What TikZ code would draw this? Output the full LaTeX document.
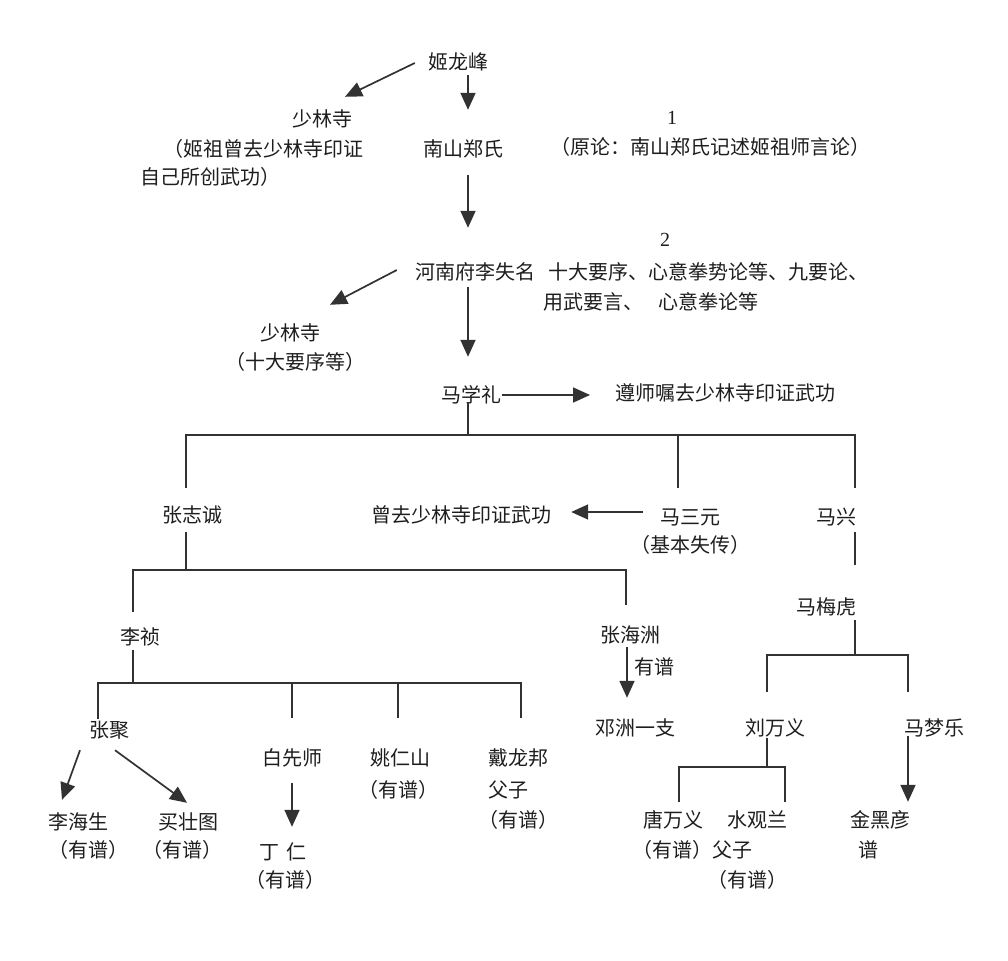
\documentclass[tikz,border=0pt]{standalone}
\usepackage{fontspec}
\setmainfont{Liberation Serif}
\newfontfamily\cjk{Noto Sans CJK SC}
\usetikzlibrary{arrows.meta,calc}
\definecolor{ink}{RGB}{30,30,30}
\definecolor{lc}{RGB}{50,50,50}
\begin{document}
\begin{tikzpicture}[x=1pt,y=-1pt,
  t/.style={font=\cjk\fontsize{20}{24}\selectfont, text=ink, inner sep=0pt, text height=17pt, text depth=3pt},
  num/.style={font=\fontsize{20}{24}\selectfont, text=ink, inner sep=0pt},
  ln/.style={draw=lc, line width=1.7pt},
  arr/.style={ln, -{Triangle[length=17pt,width=15pt]}}]
\fill[white] (0,0) rectangle (1008,960);
\useasboundingbox (0,0) rectangle (1008,960);

% nodes
\node[t] (n1) at (458,63) {姬龙峰};
\node[t] (slA) at (322,120) {少林寺};
\node[t,anchor=west] (slA1) at (163,150) {（姬祖曾去少林寺印证};
\node[t,anchor=west] (slA2) at (140,178) {自己所创武功）};
\node[t] (ns) at (463,150) {南山郑氏};
\node[num] (one) at (672,118) {1};
\node[t] (yl) at (710,148) {（原论：南山郑氏记述姬祖师言论）};
\node[num] (two) at (665,240) {2};
\node[t] (hn) at (475,272) {河南府李失名};
\node[t,anchor=west] (t1) at (548,272) {十大要序、心意拳势论等、九要论、};
\node[t,anchor=west] (t2) at (543,302) {用武要言、\hspace{15pt}心意拳论等};
\node[t] (slB) at (290,333) {少林寺};
\node[t] (slB1) at (295,362) {（十大要序等）};
\node[t] (mxl) at (471,395) {马学礼};
\node[t,anchor=west] (zs) at (615,393) {遵师嘱去少林寺印证武功};
\node[t] (zzc) at (192,515) {张志诚};
\node[t] (cq) at (461,515) {曾去少林寺印证武功};
\node[t] (msy) at (690,517) {马三元};
\node[t] (msy1) at (690,545) {（基本失传）};
\node[t] (mx) at (836,517) {马兴};
\node[t] (mmh) at (826,607) {马梅虎};
\node[t] (lz) at (140,637) {李祯};
\node[t] (zhz) at (630,635) {张海洲};
\node[t] (yp) at (654,667) {有谱};
\node[t] (dz) at (635,728) {邓洲一支};
\node[t] (lwy) at (775,728) {刘万义};
\node[t] (mml) at (934,728) {马梦乐};
\node[t] (zj) at (109,730) {张聚};
\node[t] (lhs) at (78,822) {李海生};
\node[t] (lhs1) at (88,850) {（有谱）};
\node[t] (mzt) at (188,822) {买壮图};
\node[t] (mzt1) at (182,850) {（有谱）};
\node[t] (bxs) at (292,758) {白先师};
\node[t] (dr) at (283,852) {丁\hspace{7pt}仁};
\node[t] (dr1) at (285,880) {（有谱）};
\node[t] (yrs) at (400,758) {姚仁山};
\node[t] (yrs1) at (398,790) {（有谱）};
\node[t] (dlb) at (518,758) {戴龙邦};
\node[t,anchor=west] (dlb1) at (488,790) {父子};
\node[t] (dlb2) at (518,820) {（有谱）};
\node[t] (twy) at (673,820) {唐万义};
\node[t,anchor=west] (twy1) at (632,850) {（有谱）父子};
\node[t] (sgl) at (757,820) {水观兰};
\node[t] (sgl1) at (747,880) {（有谱）};
\node[t] (jhy) at (880,820) {金黑彦};
\node[t] (jhy1) at (868,850) {谱};

% junction coordinates
\coordinate (b1) at (468,435);
\coordinate (b2) at (186,570);
\coordinate (b3) at (133,683);
\coordinate (b4) at (855,655);
\coordinate (b5) at (767,767);

% arrows
\draw[arr] ($(n1.west)+(-13,0)$) -- ($(slA.north)+(23,-13)$);
\draw[arr] ($(n1.south)+(10,2)$) -- ($(ns.north)+(5,-30)$);
\draw[arr] ($(ns.south)+(5,15)$) -- ($(hn.north)+(-7,-34)$);
\draw[arr] ($(hn.west)+(-18,-2)$) -- ($(slB.north)+(40,-18)$);
\draw[arr] ($(hn.south)+(-7,5)$) -- ($(mxl.north)+(-3,-28)$);
\draw[arr] ($(mxl.east)+(1,0)$) -- ($(zs.west)+(-25,2)$);
\draw[arr] ($(msy.west)+(-17,-5)$) -- ($(cq.east)+(20,-3)$);
\draw[arr] ($(zj.south)+(-29,10)$) -- ($(lhs.north)+(-16,-12)$);
\draw[arr] ($(zj.south)+(6,10)$) -- ($(mzt.north)+(-1,-9)$);
\draw[arr] ($(bxs.south)+(0,15)$) -- ($(dr.north)+(9,-15)$);
\draw[arr] ($(zhz.south)+(-3,2)$) -- ($(dz.north)+(-8,-20)$);
\draw[arr] ($(mml.south)+(-26,-2)$) -- ($(jhy.north)+(28,-8)$);

% tree lines
\draw[ln] ($(mxl.south)+(-3,-3)$) -- (b1);
\draw[ln] ($(zzc.north)+(-6,-17)$) |- (b1) -| ($(mx.north)+(19,-19)$);
\draw[ln] ($(msy.north)+(-12,-19)$) -- ++(0,-53);
\draw[ln] ($(mx.south)+(19,5)$) -- ($(mmh.north)+(29,-32)$);

\draw[ln] ($(zzc.south)+(-6,7)$) -- (b2);
\draw[ln] ($(lz.north)+(-7,-15)$) |- (b2) -| ($(zhz.north)+(-4,-20)$);

\draw[ln] ($(lz.south)+(-7,3)$) -- (b3);
\draw[ln] ($(zj.north)+(-11,-1)$) |- (b3) -| ($(dlb.north)+(3,-30)$);
\draw[ln] ($(bxs.north)+(0,-30)$) -- ++(0,-35);
\draw[ln] ($(yrs.north)+(-2,-30)$) -- ++(0,-35);

\draw[ln] ($(mmh.south)+(29,3)$) -- (b4);
\draw[ln] ($(lwy.north)+(-8,-26)$) |- (b4) -| ($(mml.north)+(-26,-26)$);

\draw[ln] ($(lwy.south)+(-8,0)$) -- (b5);
\draw[ln] ($(twy.north)+(6,-8)$) |- (b5) -| ($(sgl.north)+(28,-8)$);
\end{tikzpicture}
\end{document}
